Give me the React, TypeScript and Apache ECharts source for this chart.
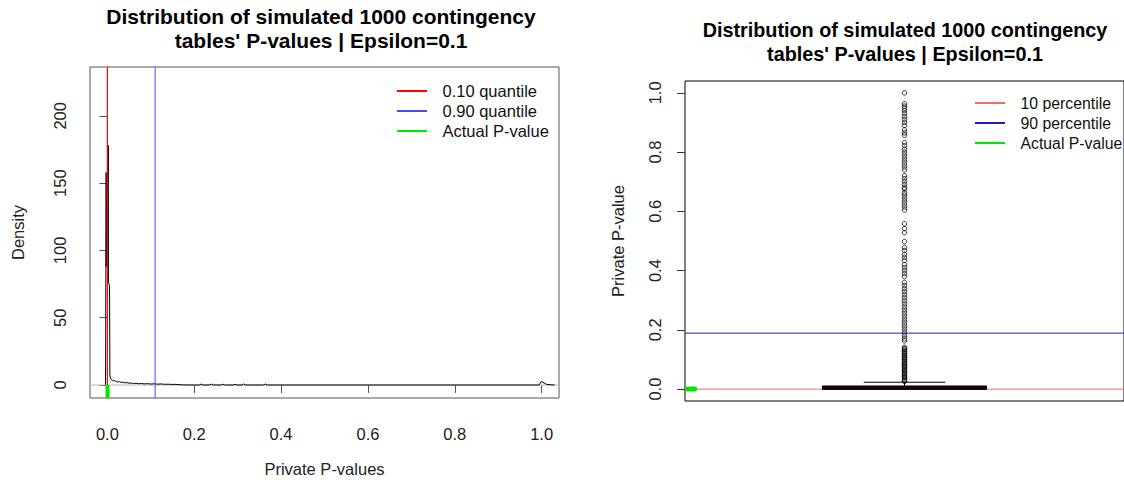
import React, { useEffect, useRef } from "react";
import * as echarts from "echarts";

const FONT = '"Liberation Sans", Arial, Helvetica, sans-serif';

// Kernel density of the simulated private p-values (left panel)
const densityX = [-0.006, -0.0042, -0.0028, -0.0026, -0.0004, 0.0022, 0.0026, 0.005, 0.0058, 0.0068, 0.0088, 0.011, 0.014, 0.017, 0.02, 0.024, 0.028, 0.032, 0.036, 0.04, 0.045, 0.05, 0.055, 0.06, 0.066, 0.072, 0.078, 0.085, 0.092, 0.1, 0.108, 0.116, 0.124, 0.132, 0.14, 0.148, 0.156, 0.165, 0.175, 0.19, 0.212, 0.216, 0.22, 0.235, 0.24, 0.244, 0.262, 0.266, 0.27, 0.29, 0.294, 0.298, 0.31, 0.314, 0.318, 0.36, 0.364, 0.368, 0.98, 0.994, 0.999, 1.003, 1.012, 1.03];
const densityY = [0, 0.5, 158, 88, 130, 178, 76, 74, 7.5, 5.2, 4.3, 3.6, 3.1, 3.3, 2.6, 2.2, 2.5, 1.9, 2.1, 1.6, 1.8, 1.3, 1.5, 1.1, 1.3, 0.9, 1.1, 0.8, 1.0, 0.7, 0.9, 0.6, 0.8, 0.5, 0.6, 0.4, 0.5, 0.2, 0.1, 0, 0, 0.7, 0, 0, 0.6, 0, 0, 0.6, 0, 0, 0.5, 0, 0, 0.8, 0, 0, 0.7, 0, 0, 0, 2.6, 2.0, 0.4, 0];

// Reference values
const quantile10 = 0.0;
const quantile90 = 0.11;
const percentile10 = 0.0;
const percentile90 = 0.189;
const actualP = 0.0005;

// Box plot statistics: lower whisker, Q1, median, Q3, upper whisker
const boxStats = [0, 0.0003, 0.002, 0.0095, 0.0233];
const outliers = [
  1.0, 0.963, 0.955, 0.948, 0.94, 0.93, 0.92, 0.91, 0.9, 0.89, 0.875, 0.865, 0.857,
  0.832, 0.822, 0.81, 0.8, 0.79, 0.78, 0.77, 0.76, 0.75, 0.74,
  0.72, 0.71, 0.7, 0.69, 0.68, 0.675, 0.663, 0.655, 0.645, 0.635, 0.625, 0.615, 0.605,
  0.558, 0.542, 0.528, 0.498, 0.478, 0.468, 0.455, 0.445, 0.435, 0.42, 0.41, 0.4, 0.39, 0.38,
  0.36, 0.35, 0.34, 0.33, 0.32, 0.31, 0.3, 0.29, 0.28, 0.27, 0.26, 0.25, 0.24,
  0.23, 0.22, 0.21, 0.2, 0.19, 0.18, 0.17, 0.163,
  0.141, 0.137, 0.134, 0.129, 0.126, 0.121, 0.118, 0.113, 0.109, 0.106, 0.101, 0.098, 0.093,
  0.089, 0.086, 0.081, 0.077, 0.074, 0.069, 0.065, 0.062, 0.057, 0.053, 0.05, 0.045, 0.041,
  0.038, 0.033, 0.029, 0.026,
];

const densityTicks = [0, 50, 100, 150, 200];
const pTicks = [0, 0.2, 0.4, 0.6, 0.8, 1.0];

const titleLines = [
  "Distribution of simulated 1000 contingency",
  "tables' P-values | Epsilon=0.1",
];

const LABEL_SIZE = 16.5;
const TITLE_SIZE = 20;

// Axis extents
const LEFT_X = [-0.04, 1.04];
const LEFT_Y = [-9.66, 236.3];
const RIGHT_X = [0, 1];
const RIGHT_Y = [-0.04, 1.04];

const straight = (name: string, xi: number, data: number[][], color: string, width: number, z: number, extra: any = {}) => ({
  name,
  type: "line",
  xAxisIndex: xi,
  yAxisIndex: xi,
  data,
  showSymbol: false,
  symbol: "none",
  silent: true,
  color,
  itemStyle: { color },
  lineStyle: { color, width, type: "solid" },
  emphasis: { disabled: true },
  z,
  ...extra,
});

export default function App() {
  const ref = useRef<HTMLDivElement>(null);

  useEffect(() => {
    if (!ref.current) return;
    const chart = echarts.init(ref.current, undefined, { renderer: "svg" });

    const legendBase = (fontSize: number) => ({
      orient: "vertical" as const,
      icon: "path://M0,0H30V2H0Z",
      itemWidth: 31,
      itemHeight: 2,
      itemGap: 0,
      padding: 0,
      selectedMode: false,
      textStyle: {
        fontFamily: FONT,
        fontSize,
        color: "#111",
        lineHeight: 20,
        padding: [0, 0, 0, 10],
      },
    });

    const titleText = (cx: number, y1: number, scaleX: number) =>
      titleLines.map((t, i) => ({
        type: "text",
        x: cx,
        y: y1 + i * 24,
        scaleX,
        style: {
          text: t,
          fill: "#000",
          font: `bold ${TITLE_SIZE}px ${FONT}`,
          textAlign: "center",
          textVerticalAlign: "middle",
        },
      }));

    chart.setOption({
      animation: false,
      backgroundColor: "#fff",
      textStyle: { fontFamily: FONT },
      graphic: [...titleText(321, 17, 1.05), ...titleText(905, 30, 0.99)],
      legend: [
        {
          ...legendBase(16.5),
          left: 397,
          top: 81,
          data: ["0.10 quantile", "0.90 quantile", "Actual P-value"],
        },
        {
          ...legendBase(15.8),
          left: 975,
          top: 93,
          data: ["10 percentile", "90 percentile", "Actual P-value"],
        },
      ],
      grid: [
        { left: 90, top: 67, width: 469, height: 331, show: true, borderColor: "#555", borderWidth: 1, backgroundColor: "transparent" },
        { left: 685, top: 81, width: 443, height: 320, show: true, borderColor: "#000", borderWidth: 1, backgroundColor: "transparent" },
      ],
      xAxis: [
        {
          gridIndex: 0,
          type: "value",
          min: LEFT_X[0],
          max: LEFT_X[1],
          axisLine: { show: false },
          splitLine: { show: false },
          axisTick: { show: true, inside: false, length: 8, customValues: pTicks, lineStyle: { color: "#555" } },
          axisLabel: {
            customValues: pTicks,
            formatter: (v: number) => v.toFixed(1),
            margin: 27,
            fontSize: LABEL_SIZE,
            color: "#222",
            fontFamily: FONT,
          },
          name: "Private P-values",
          nameLocation: "middle",
          nameGap: 62,
          nameTextStyle: { fontSize: LABEL_SIZE, color: "#222", fontFamily: FONT },
        },
        {
          gridIndex: 1,
          type: "value",
          min: RIGHT_X[0],
          max: RIGHT_X[1],
          show: false,
        },
      ],
      yAxis: [
        {
          gridIndex: 0,
          type: "value",
          min: LEFT_Y[0],
          max: LEFT_Y[1],
          axisLine: { show: false },
          splitLine: { show: false },
          axisTick: { show: true, inside: false, length: 8, customValues: densityTicks, lineStyle: { color: "#555" } },
          axisLabel: {
            customValues: densityTicks,
            rotate: 90,
            margin: 22,
            fontSize: LABEL_SIZE,
            color: "#222",
            fontFamily: FONT,
          },
          name: "Density",
          nameLocation: "middle",
          nameRotate: 90,
          nameGap: 64,
          nameTextStyle: { fontSize: LABEL_SIZE, color: "#222", fontFamily: FONT },
        },
        {
          gridIndex: 1,
          type: "value",
          min: RIGHT_Y[0],
          max: RIGHT_Y[1],
          axisLine: { show: false },
          splitLine: { show: false },
          axisTick: { show: true, inside: false, length: 8, customValues: pTicks, lineStyle: { color: "#333" } },
          axisLabel: {
            customValues: pTicks,
            formatter: (v: number) => v.toFixed(1),
            rotate: 90,
            margin: 22,
            fontSize: LABEL_SIZE,
            color: "#222",
            fontFamily: FONT,
          },
          name: "Private P-value",
          nameLocation: "middle",
          nameRotate: 90,
          nameGap: 59,
          nameTextStyle: { fontSize: LABEL_SIZE, color: "#222", fontFamily: FONT },
        },
      ],
      series: [
        // Left panel: gray zero line, density curve, reference lines
        straight("zero", 0, [[LEFT_X[0], 0], [LEFT_X[1], 0]], "#b8b8b8", 1, 1),
        straight("density", 0, densityX.map((x, i) => [x, densityY[i]]), "#000", 1, 2),
        straight("0.10 quantile", 0, [[quantile10, LEFT_Y[0]], [quantile10, LEFT_Y[1]]], "#ff0000", 1.2, 3),
        straight("0.90 quantile", 0, [[quantile90, LEFT_Y[0]], [quantile90, LEFT_Y[1]]], "#4848ff", 1, 3),
        straight("Actual P-value", 0, [[actualP, LEFT_Y[0]], [actualP, 0]], "#00e600", 4, 4),
        // Right panel: box plot of private p-values with reference lines
        straight("10 percentile", 1, [[RIGHT_X[0], percentile10], [RIGHT_X[1], percentile10]], "#f66a6a", 1, 1),
        {
          name: "box",
          type: "custom",
          xAxisIndex: 1,
          yAxisIndex: 1,
          data: [[0.5, ...boxStats]],
          z: 2,
          silent: true,
          renderItem: (_params: any, api: any) => {
            const cx = api.value(0);
            const lw = api.value(1);
            const q1 = api.value(2);
            const med = api.value(3);
            const q3 = api.value(4);
            const uw = api.value(5);
            const halfBox = 0.186;
            const halfStaple = 0.093;
            const tl = api.coord([cx - halfBox, q3]);
            const br = api.coord([cx + halfBox, q1]);
            const seg = (a: number[], b: number[], w: number) => ({
              type: "line",
              shape: { x1: a[0], y1: a[1], x2: b[0], y2: b[1] },
              style: { stroke: "#000", lineWidth: w },
            });
            return {
              type: "group",
              children: [
                seg(api.coord([cx, q3]), api.coord([cx, uw]), 1),
                seg(api.coord([cx, q1]), api.coord([cx, lw]), 1),
                seg(api.coord([cx - halfStaple, uw]), api.coord([cx + halfStaple, uw]), 1),
                {
                  type: "rect",
                  shape: { x: tl[0], y: tl[1], width: br[0] - tl[0], height: br[1] - tl[1] },
                  style: { fill: "#7a0000", stroke: "#000", lineWidth: 1.5 },
                },
                seg(api.coord([cx - halfBox, med]), api.coord([cx + halfBox, med]), 2),
              ],
            };
          },
        },
        {
          name: "outliers",
          type: "scatter",
          xAxisIndex: 1,
          yAxisIndex: 1,
          data: outliers.map((v) => [0.5, v]),
          symbol: "circle",
          symbolSize: 4.5,
          silent: true,
          itemStyle: { color: "rgba(0,0,0,0)", borderColor: "#000", borderWidth: 1 },
          z: 3,
        },
        straight("90 percentile", 1, [[RIGHT_X[0], percentile90], [RIGHT_X[1], percentile90]], "#1c1cc8", 1, 4),
        straight("Actual P-value", 1, [[0.006, actualP], [0.022, actualP]], "#00e600", 5, 5, {
          clip: false,
          lineStyle: { color: "#00e600", width: 5, cap: "round", type: "solid" },
        }),
      ],
    });

    return () => chart.dispose();
  }, []);

  return (
    <div
      ref={ref}
      style={{ position: "absolute", left: 0, top: 0, width: 1124, height: 483, background: "#fff" }}
    />
  );
}
